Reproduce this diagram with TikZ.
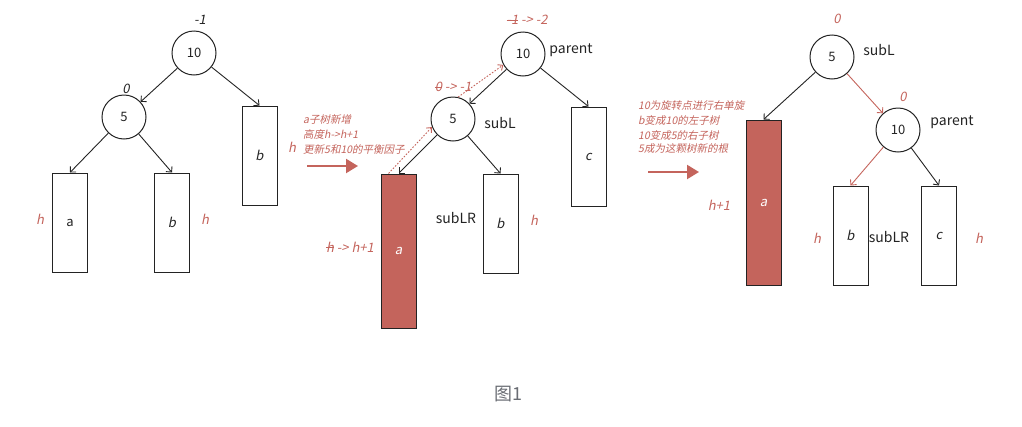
\documentclass[tikz,border=0pt]{standalone}
\usepackage{fontspec}
\setmainfont{Noto Sans CJK SC}[AutoFakeSlant=0.2]
\definecolor{TreeRed}{RGB}{196, 100, 92}
\definecolor{InkGray}{RGB}{35, 35, 35}
\definecolor{CapGray}{RGB}{105, 108, 115}
\usetikzlibrary{arrows.meta,positioning}
\newsavebox{\strkbox}
\newcommand{\strk}[1]{\sbox{\strkbox}{#1}\rlap{\rule[0.32em]{\wd\strkbox}{0.6pt}}\usebox{\strkbox}}

\begin{document}
\begin{tikzpicture}[x=1pt, y=-1pt,
    keynode/.style={circle, draw=InkGray, line width=1pt, minimum size=44pt, inner sep=0pt,
                    font=\fontsize{13}{15}\selectfont, text=InkGray},
    subtree/.style={draw=InkGray, line width=1pt, minimum width=35pt, minimum height=99pt, inner sep=0pt,
                    font=\fontsize{13}{15}\selectfont\itshape, text=InkGray},
    grown/.style={subtree, fill=TreeRed, text=white},
    edge/.style={-{Straight Barb[length=4pt, width=8pt]}, draw=InkGray, line width=0.9pt},
    redge/.style={edge, draw=TreeRed},
    trace/.style={-{Straight Barb[length=4pt, width=7pt]}, draw=TreeRed, dash pattern=on 1.6pt off 1.6pt, line width=0.9pt},
    bf/.style={text=TreeRed, font=\fontsize{13}{15}\selectfont\itshape},
    tag/.style={text=InkGray, font=\fontsize{14}{16}\selectfont},
    note/.style={text=TreeRed, font=\fontsize{10.5}{13}\selectfont\itshape, anchor=west, inner sep=0pt},
    turn/.style={-{Triangle[length=12pt, width=14pt]}, draw=TreeRed, line width=2.2pt}]
  \useasboundingbox (0,0) rectangle (1022,426);

  % before insertion
  \node[keynode] (p10) at (194,53) {10};
  \node[keynode] (p5) at (124,117) {5};
  \node[subtree, font=\fontsize{13}{15}\selectfont] (pa) at (70,222.5) {a};
  \node[subtree] (pb) at (172,222.5) {b};
  \node[subtree] (pc) at (259.5,155.5) {b};
  \draw[edge] (p10) -- (p5);
  \draw[edge] (p10) -- (pc.north);
  \draw[edge] (p5) -- (pa.north);
  \draw[edge] (p5) -- (pb.north);
  \node[bf, text=InkGray] (pbf10) at (200,20) {-1};
  \node[bf, text=InkGray] (pbf5) at (126,89) {0};
  \node[bf] (pha) at (40,219) {h};
  \node[bf] (phb) at (205,219) {h};
  \node[bf] (phc) at (292,147) {h};

  % first step
  \foreach \txt/\ypos in {a子树新增/119, 高度h->h+1/134, 更新5和10的平衡因子/149} {
    \node[note] at (303,\ypos) {\txt};
  }
  \coordinate (m1s) at (307,166);
  \coordinate (m1e) at (358,166);
  \draw[turn] (m1s) -- (m1e);

  % after insertion
  \node[keynode] (q10) at (523,54) {10};
  \node[keynode] (q5) at (453,119) {5};
  \node[grown, minimum height=154pt] (qa) at (398.5,251) {a};
  \node[subtree] (qb) at (500.5,223.5) {b};
  \node[subtree] (qc) at (588.5,156.5) {c};
  \draw[edge] (q10) -- (q5);
  \draw[edge] (q10) -- (qc.north);
  \draw[edge] (q5) -- (qa.north);
  \draw[edge] (q5) -- (qb.north);
  \draw[trace] ([xshift=-10pt]qa.north) -- (q5.201);
  \draw[trace] (q5.77) -- (q10.209);
  \node[bf] (qbf10) at (527,20) {\strk{-1} -> -2};
  \node[bf] (qbf5) at (453,87) {\strk{0} -> -1};
  \node[tag] (qpar) at (571,50) {parent};
  \node[tag] (qsubl) at (500,123) {subL};
  \node[tag] (qsublr) at (456,218) {subLR};
  \node[bf] (qhb) at (534,220) {h};
  \node[bf] (qha) at (350,247) {\strk{h} -> h+1};

  % second step
  \foreach \txt/\ypos in {10为旋转点进行右单旋/106, b变成10的左子树/120, 10变成5的右子树/135, 5成为这颗树新的根/149} {
    \node[note] at (638,\ypos) {\txt};
  }
  \coordinate (m2s) at (648,172);
  \coordinate (m2e) at (699,172);
  \draw[turn] (m2s) -- (m2e);

  % after rotation
  \node[keynode] (r5) at (832,57) {5};
  \node[keynode] (r10) at (898,130) {10};
  \node[grown, minimum height=165pt] (ra) at (763.5,202.5) {a};
  \node[subtree] (rb) at (850.5,235.5) {b};
  \node[subtree] (rc) at (939,235.5) {c};
  \draw[edge] (r5) -- (ra.north);
  \draw[redge] (r5) -- (r10);
  \draw[redge] (r10) -- (rb.north);
  \draw[edge] (r10) -- (rc.north);
  \node[bf] (rbf5) at (837,19) {0};
  \node[bf] (rbf10) at (903,97) {0};
  \node[tag] (rsubl) at (879,50) {subL};
  \node[tag] (rpar) at (952,122) {parent};
  \node[tag] (rsublr) at (889,237) {subLR};
  \node[bf] (rha) at (719,205) {h+1};
  \node[bf] (rhb) at (817,238) {h};
  \node[bf] (rhc) at (979,238) {h};

  \node[text=CapGray, font=\fontsize{18}{20}\selectfont] (cap) at (508,394) {图1};
\end{tikzpicture}
\end{document}
